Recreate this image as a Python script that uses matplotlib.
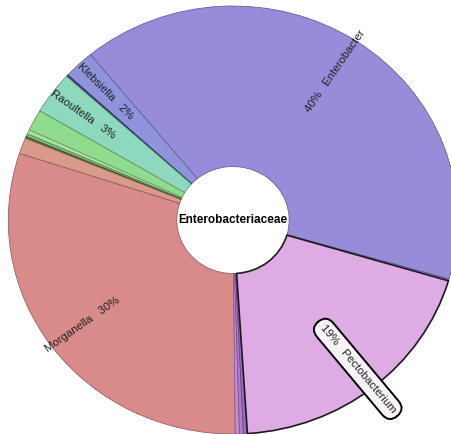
import numpy as np
import matplotlib.pyplot as plt
from matplotlib.patches import Wedge

plt.rcParams['font.family'] = ['Liberation Sans', 'DejaVu Sans']

# genus shares (%) counter-clockwise from the start angle, unlabeled slivers have ''
root = 'Enterobacteriaceae'
genera = ['Enterobacter', 'Klebsiella', '', 'Raoultella', '', '', '', '', '',
          'Morganella', '', '', '', 'Pectobacterium', '']
shares = [40.4, 2.2, 0.14, 3.2, 1.6, 0.33, 0.22, 0.14, 1.2,
          30.2, 0.3, 0.28, 0.28, 19.4, 0.14]
colors = ['#978cd9', '#8f93dc', '#3b3f7a', '#8ed9bd', '#8fdc8f', '#a9e29c',
          '#7cc47c', '#5e6b3a', '#d99a8c', '#d98b8b', '#c98bd9', '#b67ad0',
          '#9a6bc4', '#dfabe4', '#8a7fd0']
highlight = 'Pectobacterium'
start_angle = -16.0

R = 214.0      # outer radius
r0 = 53.5      # hole radius
sx = 1.05      # picture is a bit wider than tall

fig = plt.figure(figsize=(4.51, 4.34), dpi=100)
ax = fig.add_axes([0, 0, 1, 1])
ax.set_xlim(-233 / sx, 218 / sx)
ax.set_ylim(-214, 220)
ax.axis('off')

vals = np.array(shares) / np.sum(shares) * 360.0
edges = start_angle + np.concatenate([[0], np.cumsum(vals)])

hl = None
for i, name in enumerate(genera):
    t1, t2 = edges[i], edges[i + 1]
    fc = np.array(plt.matplotlib.colors.to_rgb(colors[i]))
    if name == highlight:
        hl = (t1, t2, colors[i])
        continue
    w = Wedge((0, 0), R, t1, t2, width=R - r0, facecolor=fc,
              edgecolor=fc * 0.65, linewidth=0.55)
    ax.add_patch(w)

if hl is not None:
    w = Wedge((0, 0), R, hl[0], hl[1], width=R - r0, facecolor=hl[2],
              edgecolor='#1a1a1a', linewidth=1.2, zorder=3)
    ax.add_patch(w)

for i, name in enumerate(genera):
    if not name:
        continue
    mid = np.radians((edges[i] + edges[i + 1]) / 2)
    pct = round(shares[i] / np.sum(shares) * 100)
    rl = 0.89 * R if name == highlight else 0.83 * R
    x, y = rl * np.cos(mid), rl * np.sin(mid)
    rot = np.degrees(np.arctan2(np.sin(mid), np.cos(mid) * sx))
    if -90 <= rot <= 90:
        label = f'{pct}%   {name}'
    else:
        label = f'{name}   {pct}%'
        rot = rot - 180 if rot > 0 else rot + 180
    kw = {}
    if name == highlight:
        kw['bbox'] = dict(boxstyle='round,pad=0.5,rounding_size=0.95',
                          facecolor='#f8f4f8', edgecolor='black', linewidth=1.4)
    ax.text(x, y, label, rotation=rot, rotation_mode='anchor', ha='center',
            va='center', fontsize=8.2, color='#222222', zorder=5, **kw)

ax.text(0, 0, root, ha='center', va='center', fontsize=8.5,
        fontweight='bold', color='black', zorder=5)

fig.savefig('out.png', dpi=100)
